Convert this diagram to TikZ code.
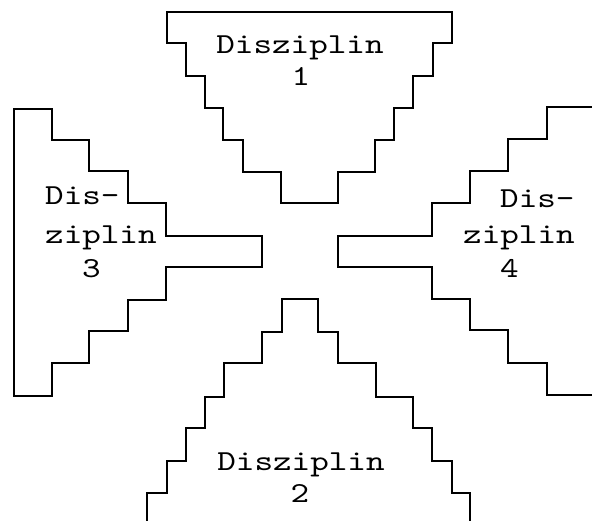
\documentclass[tikz,border=0pt]{standalone}
\usepackage{fontspec}
\newfontfamily\typer[FakeStretch=1.22]{lmmono10-regular.otf}
\begin{document}
\begin{tikzpicture}[x=1pt,y=-1pt,
  wall/.style={line width=1.6pt,line join=miter,black},
  lbl/.style={inner sep=0pt,font=\typer\fontsize{29}{29}\selectfont}]
\useasboundingbox (0,0) rectangle (592,520);
\clip (0,0) rectangle (592,520);

% Disziplin 1 (top, pointing down)
\draw[wall] (167,12) -- (452,12) -- (452,43) -- (433,43) -- (433,76) -- (413,76)
  -- (413,108) -- (394,108) -- (394,140) -- (375,140) -- (375,172) -- (338,172)
  -- (338,203) -- (281,203) -- (281,172) -- (243,172) -- (243,140) -- (223,140)
  -- (223,108) -- (205,108) -- (205,76) -- (186,76) -- (186,43) -- (167,43) -- cycle;

% Disziplin 3 (left, pointing right)
\draw[wall] (14,109) -- (52,109) -- (52,140) -- (89,140) -- (89,171) -- (128,171)
  -- (128,203) -- (166,203) -- (166,236) -- (262,236) -- (262,267) -- (166,267)
  -- (166,300) -- (128,300) -- (128,331) -- (89,331) -- (89,363) -- (52,363)
  -- (52,396) -- (14,396) -- cycle;

% Disziplin 4 (right, pointing left, running off the edge)
\draw[wall] (600,107) -- (547,107) -- (547,139) -- (508,139) -- (508,171) -- (470,171)
  -- (470,203) -- (432,203) -- (432,236) -- (338,236) -- (338,267) -- (432,267)
  -- (432,299) -- (470,299) -- (470,330) -- (508,330) -- (508,363) -- (547,363)
  -- (547,395) -- (600,395);

% Disziplin 2 (bottom, pointing up, running off the edge)
\draw[wall] (147,530) -- (147,493) -- (167,493) -- (167,461) -- (186,461) -- (186,428)
  -- (205,428) -- (205,397) -- (224,397) -- (224,363) -- (262,363) -- (262,332)
  -- (282,332) -- (282,299) -- (318,299) -- (318,332) -- (338,332) -- (338,363)
  -- (376,363) -- (376,397) -- (413,397) -- (413,428) -- (432,428) -- (432,461)
  -- (452,461) -- (452,493) -- (470,493) -- (470,530);

% labels
\node[lbl,anchor=base] (d1a) at (300,53) {Disziplin};
\node[lbl,anchor=base] (d1b) at (301,85) {1};

\node[lbl,anchor=base] (d2a) at (301,470) {Disziplin};
\node[lbl,anchor=base] (d2b) at (300,502) {2};

\node[lbl,anchor=base west] (d3a) at (45,204) {Dis-};
\node[lbl,anchor=base west] (d3b) at (45,243) {ziplin};
\node[lbl,anchor=base west] (d3c) at (82,277) {3};

\node[lbl,anchor=base west] (d4a) at (500,207) {Dis-};
\node[lbl,anchor=base west] (d4b) at (463,243) {ziplin};
\node[lbl,anchor=base west] (d4c) at (500,277) {4};
\end{tikzpicture}
\end{document}
